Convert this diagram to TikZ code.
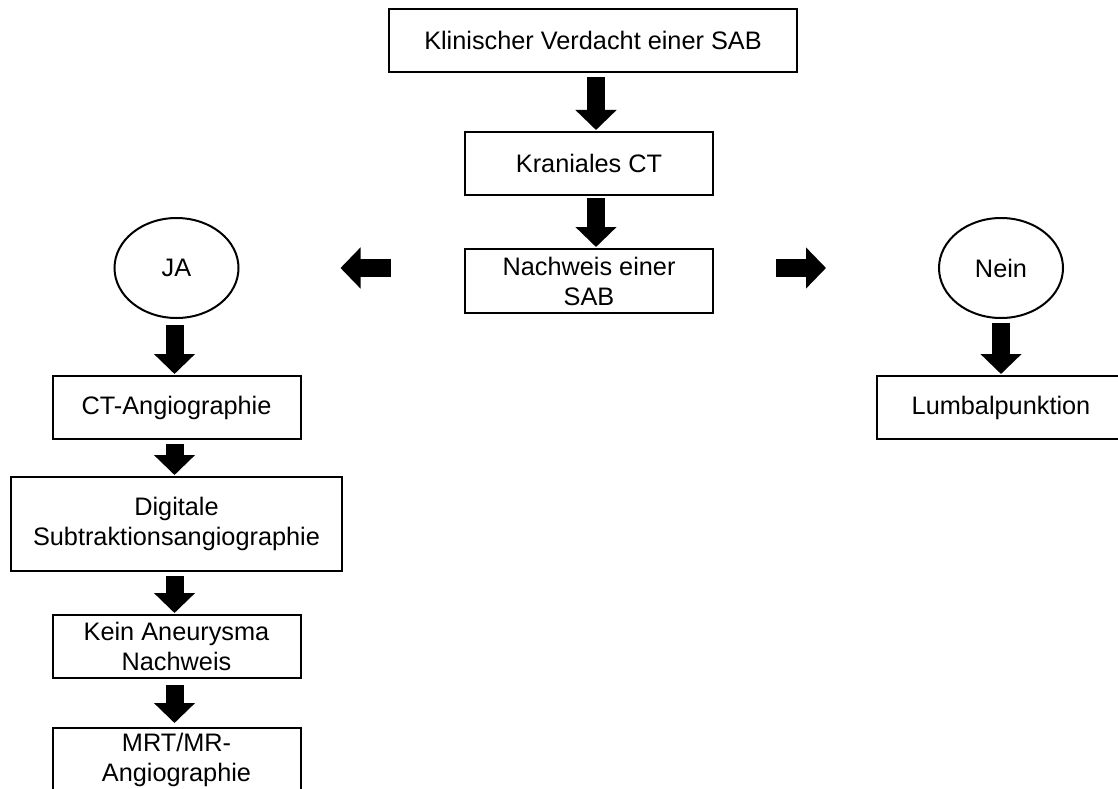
\documentclass[tikz,border=0pt]{standalone}
\usepackage{fontspec}
\setmainfont{Liberation Sans}
\usetikzlibrary{arrows.meta,shapes.geometric}

\begin{document}
\begin{tikzpicture}[x=1pt, y=-1pt,
    font=\fontsize{25.3}{30}\selectfont,
    box/.style={draw, line width=2pt, rectangle, align=center, inner sep=0pt,
                minimum width=248pt, minimum height=63pt},
    answer/.style={draw, line width=2pt, ellipse, inner sep=0pt,
                   minimum width=124pt, minimum height=100pt},
    fat/.style={line width=18pt, -{Triangle[width=40pt,length=20pt]},
                shorten <=4pt, shorten >=1pt}]
    % Page frame (boxes at the bottom and right are cut off)
    \useasboundingbox (0,0) rectangle (1118,789);
    \clip (0,0) rectangle (1118,789);

    % Main column
    \node[box, minimum width=408pt] (verdacht) at (593,40.5) {Klinischer Verdacht einer SAB};
    \node[box] (kranial) at (589,163.5) {Kraniales CT};
    \node[box, minimum height=64pt] (nachweis) at (589,281) {Nachweis einer\\SAB};

    % Answers
    \node[answer] (ja) at (176.5,268) {JA};
    \node[answer] (nein) at (1001,268) {Nein};

    % Left branch
    \node[box] (cta) at (176.5,407.5) {CT-Angiographie};
    \node[box, minimum width=331pt, minimum height=94pt] (dsa) at (176.5,524) {Digitale\\Subtraktionsangiographie};
    \node[box] (kein) at (176.5,646.5) {Kein Aneurysma\\Nachweis};
    \node[box] (mrt) at (176.5,759.5) {MRT/MR-\\Angiographie};

    % Right branch
    \node[box] (lumbal) at (1001,407.5) {Lumbalpunktion};

    % Arrows down the main column
    \draw[fat] ([xshift=3pt]verdacht.south) -- ([xshift=7pt]kranial.north);
    \draw[fat, shorten <=2pt] ([xshift=7pt]kranial.south) -- ([xshift=7pt]nachweis.north);

    % Arrows out to the answers (they float between the shapes)
    \draw[fat, shorten <=73pt, shorten >=101pt] (nachweis.west |- ja.east) -- (ja.east);
    \draw[fat, shorten <=62pt, shorten >=112pt] (nachweis.east |- nein.west) -- (nein.west);

    % Left branch arrows
    \draw[fat, shorten <=6pt] ([xshift=-2pt]ja.south) -- ([xshift=-2pt]cta.north);
    \draw[fat] ([xshift=-2pt]cta.south) -- ([xshift=-2pt]dsa.north);
    \draw[fat] ([xshift=-2pt]dsa.south) -- ([xshift=-2pt]kein.north);
    \draw[fat, shorten <=6pt, shorten >=4pt] ([xshift=-2pt]kein.south) -- ([xshift=-2pt]mrt.north);

    % Right branch arrow
    \draw[fat] (nein.south) -- (lumbal.north);
\end{tikzpicture}
\end{document}
